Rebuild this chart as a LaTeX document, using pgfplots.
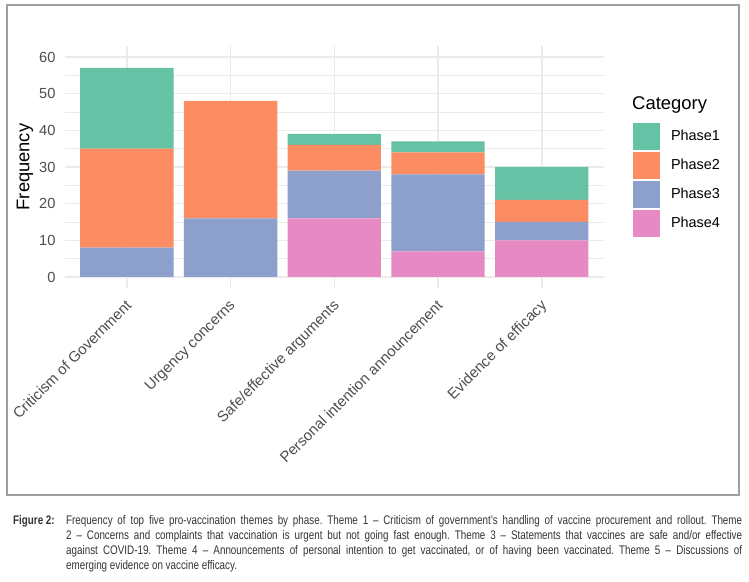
\documentclass[border=0pt]{standalone}
\usepackage{fontspec}
\setmainfont{Liberation Sans}
\newfontfamily\capfont[FakeStretch=0.79,Ligatures=TeX]{Liberation Sans}
\usepackage{pgfplots}
\usepackage{pgfplotstable}
\pgfplotsset{compat=1.18}

\definecolor{phaseA}{HTML}{66C2A5}
\definecolor{phaseB}{HTML}{FC8D62}
\definecolor{phaseC}{HTML}{8DA0CB}
\definecolor{phaseD}{HTML}{E78AC3}
\definecolor{gridgray}{HTML}{EBEBEB}
\definecolor{ticktext}{HTML}{4D4D4D}
\definecolor{captext}{HTML}{333333}

% theme counts per phase (stacked bottom-up: Phase4, Phase3, Phase2, Phase1)
\pgfplotstableread{
x P1 P2 P3 P4
0 22 27 8  0
1 0  32 16 0
2 3  7  13 16
3 3  6  21 7
4 9  6  5  10
}\themes

\begin{document}
\frenchspacing
\begin{tikzpicture}[x=1bp,y=1bp]
\path[use as bounding box] (0,0) rectangle (749,582);
\draw[gray!75, line width=1.6bp] (7,87) rectangle (739,577);

\begin{axis}[
    at={(64.6bp,294bp)}, anchor=south west,
    scale only axis,
    width=539.4bp, height=242bp,
    ybar stacked,
    bar width=0.9,
    xmin=-0.6, xmax=4.6,
    ymin=-3, ymax=63,
    axis line style={draw=none},
    xtick={0,1,2,3,4},
    xticklabels={Criticism of Government, Urgency concerns, Safe/effective arguments, Personal intention announcement, Evidence of efficacy},
    ytick={0,10,...,60},
    minor ytick={5,15,...,55},
    major tick length=0pt, minor tick length=0pt,
    ymajorgrids, xmajorgrids, yminorgrids,
    major grid style={gridgray, line width=1.6bp},
    minor grid style={gridgray, line width=0.8bp},
    /pgf/number format/assume math mode=true,
    tick label style={text=ticktext},
    xticklabel style={font=\fontsize{15}{17}\selectfont, rotate=45, anchor=north east, inner sep=0pt, yshift=-6bp, xshift=-9bp},
    yticklabel style={font=\fontsize{14.7}{16}\selectfont, inner sep=0pt, xshift=-9bp},
    ylabel={Frequency},
    every axis y label/.style={at={(axis description cs:0,0.5)}, xshift=-39.6bp, rotate=90, anchor=center, font=\fontsize{18.4}{20}\selectfont},
    legend image code/.code={\fill[#1] (0bp,-13.5bp) rectangle (27bp,13.5bp);},
    reverse legend,
    legend cell align=left,
    legend style={draw=none, fill=none, at={(1.0538,0.6818)}, anchor=north west,
        inner sep=0pt, outer sep=0pt, row sep=2bp,
        font=\fontsize{14.5}{16}\selectfont,
        nodes={inner sep=0pt},
        /tikz/every odd column/.style={column sep=11bp}},
]
\addplot[draw=none, fill=phaseD] table[x=x, y=P4] {\themes};
\addplot[draw=none, fill=phaseC] table[x=x, y=P3] {\themes};
\addplot[draw=none, fill=phaseB] table[x=x, y=P2] {\themes};
\addplot[draw=none, fill=phaseA] table[x=x, y=P1] {\themes};
\legend{Phase4, Phase3, Phase2, Phase1}
\end{axis}

\node[anchor=base west, inner sep=0pt, font=\fontsize{18.5}{20}\selectfont] at (632,472) {Category};

\node[anchor=base west, inner sep=0pt, font=\capfont\bfseries\fontsize{12.5}{15}\selectfont, text=captext] at (13,57) {Figure 2:};
\node[anchor=north west, inner sep=0pt, text width=676bp, align=justify, font=\capfont\fontsize{12.5}{15}\selectfont, text=captext] at (66,66.5) {Frequency of top five pro-vaccination themes by phase. Theme 1 – Criticism of government’s handling of vaccine procurement and rollout. Theme\linebreak 2 – Concerns and complaints that vaccination is urgent but not going fast enough. Theme 3 – Statements that vaccines are safe and/or effective\linebreak against COVID-19. Theme 4 – Announcements of personal intention to get vaccinated, or of having been vaccinated. Theme 5 – Discussions of\linebreak emerging evidence on vaccine efficacy.};
\end{tikzpicture}
\end{document}
